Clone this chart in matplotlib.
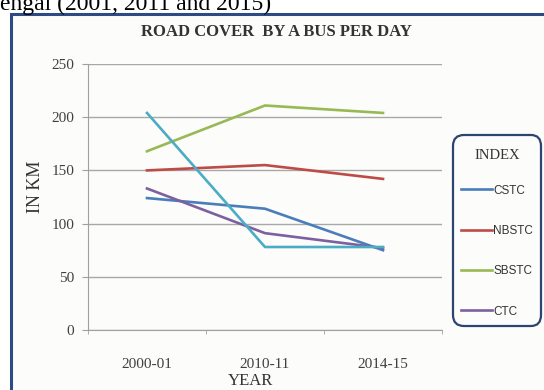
import matplotlib.pyplot as plt
from matplotlib.patches import Rectangle

# data
years = ['2000-01', '2010-11', '2014-15']
cstc = [124, 114, 75]
nbstc = [150, 155, 142]
sbstc = [168, 211, 204]
ctc = [133, 91, 77]
other = [204, 78, 78]   # fifth series, not in the legend

W, H = 544, 390
fig = plt.figure(figsize=(W / 100, H / 100), dpi=100)
fig.patch.set_facecolor('white')

serif = ['Liberation Serif', 'DejaVu Serif']
narrow = ['Liberation Sans Narrow', 'Liberation Sans', 'DejaVu Sans']
bg = '#fcfcfa'

# chart frame (runs off the right and bottom edges)
frame = Rectangle((11 / W, -0.2), 1.2, 1.2 - 13.5 / H, transform=fig.transFigure,
                  facecolor=bg, edgecolor='#2e4a85', lw=2.2, zorder=-10)
fig.patches.append(frame)

# clipped caption of the page above the chart
fig.text(0 / W, 1 - 10 / H, 'engal (2001, 2011 and 2015)', family=serif,
         fontsize=17, va='baseline', ha='left', color='black')

ax = fig.add_axes([88 / W, 1 - 330 / H, (442 - 88) / W, (330 - 64) / H])
ax.set_facecolor('none')
ax.set_zorder(2)

x = range(len(years))
ax.plot(x, cstc, color='#4a7ebb', lw=1.9, label='CSTC')
ax.plot(x, nbstc, color='#be4b48', lw=1.9, label='NBSTC')
ax.plot(x, sbstc, color='#98b954', lw=1.9, label='SBSTC')
ax.plot(x, ctc, color='#7d60a0', lw=1.9, label='CTC')
ax.plot(x, other, color='#4bacc6', lw=1.9)

ax.set_xlim(-0.5, 2.5)
ax.set_ylim(0, 250)
ax.set_yticks(range(0, 251, 50))
ax.set_xticks(list(x))
ax.set_xticklabels(years, family=serif, fontsize=11, color='#404040')
for lab in ax.get_yticklabels():
    lab.set_family(serif)
    lab.set_fontsize(11)
    lab.set_color('#404040')
ax.set_xticks([-0.5, 0.5, 1.5, 2.5], minor=True)
ax.tick_params(axis='x', which='major', length=0, pad=20)
ax.tick_params(axis='x', which='minor', length=3, color='#a0a0a0')
ax.tick_params(axis='y', length=4, color='#a0a0a0', pad=6)

ax.grid(axis='y', color='#a8a8a8', lw=1)
ax.set_axisbelow(True)
for s in ['top', 'right']:
    ax.spines[s].set_visible(False)
ax.spines['left'].set_color('#a0a0a0')
ax.spines['bottom'].set_color('#a0a0a0')

fig.text(276 / W, 1 - 32 / H, 'ROAD COVER  BY A BUS PER DAY', family=serif,
         fontsize=12, fontweight='bold', ha='center', va='center', color='#333333')
fig.text(35 / W, 1 - 187 / H, 'IN KM', family=serif, fontsize=13, rotation=90,
         ha='center', va='center', color='#333333')
fig.text(250 / W, 1 - 381 / H, 'YEAR', family=serif, fontsize=12,
         ha='center', va='center', color='#333333')

leg = ax.legend(loc='upper left', bbox_to_anchor=(453 / W, 1 - 135 / H),
                bbox_transform=fig.transFigure, borderaxespad=0,
                title='INDEX', prop={'family': narrow, 'size': 8.5},
                labelspacing=2.4, handlelength=2.6, handletextpad=0.1,
                borderpad=0.7, fancybox=True, facecolor=bg, framealpha=1)
leg.get_title().set_family(serif)
leg.get_title().set_fontsize(10.5)
leg.get_title().set_color('#333333')
leg.get_title().set_y(-6)
for t in leg.get_texts():
    t.set_color('#333333')
fr = leg.get_frame()
fr.set_edgecolor('#2b4570')
fr.set_linewidth(1.6)
fr.set_boxstyle('round', pad=0.0, rounding_size=0.9)

fig.savefig('out.png', dpi=100)
